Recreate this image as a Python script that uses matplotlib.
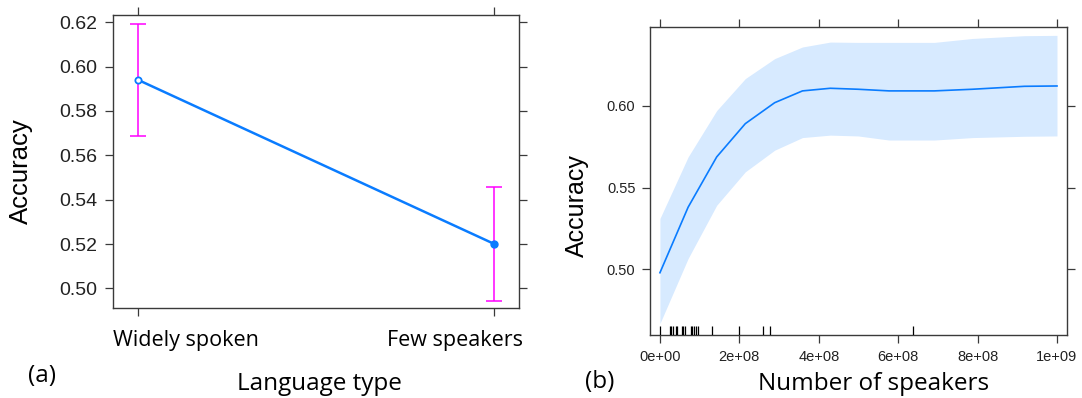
import matplotlib
matplotlib.use("Agg")
import matplotlib.pyplot as plt
from matplotlib.transforms import blended_transform_factory

# (a) language type effect
lang_types = ["Widely spoken", "Few speakers"]
acc_a = [0.594, 0.520]
lo_a = [0.5685, 0.4942]
hi_a = [0.6192, 0.5458]
yticks_a = [0.50, 0.52, 0.54, 0.56, 0.58, 0.60, 0.62]

# (b) number of speakers effect
speakers = [0, 0.71e8, 1.43e8, 2.15e8, 2.89e8, 3.59e8, 4.29e8, 4.99e8, 5.77e8, 6.91e8, 7.87e8, 9.18e8, 1.0e9]
fit_b = [0.498, 0.538, 0.5687, 0.589, 0.6018, 0.609, 0.6106, 0.610, 0.609, 0.609, 0.610, 0.6118, 0.612]
hi_b = [0.5311, 0.5687, 0.597, 0.6165, 0.6287, 0.6358, 0.6388, 0.6386, 0.6386, 0.6386, 0.641, 0.6427, 0.6429]
lo_b = [0.467, 0.5067, 0.5392, 0.5596, 0.5728, 0.5805, 0.582, 0.5815, 0.579, 0.579, 0.5805, 0.5813, 0.5815]
rug_b = [0, 0.025e9, 0.029e9, 0.034e9, 0.040e9, 0.044e9, 0.055e9, 0.059e9, 0.063e9,
         0.079e9, 0.082e9, 0.087e9, 0.092e9, 0.097e9, 0.130e9, 0.200e9, 0.259e9, 0.277e9, 0.638e9]
xticks_b = [0, 2e8, 4e8, 6e8, 8e8, 1e9]
xticklabels_b = ["0e+00", "2e+08", "4e+08", "6e+08", "8e+08", "1e+09"]
yticks_b = [0.50, 0.55, 0.60]

blue = "#0a7cff"
magenta = "#ff00ff"
band = "#d7eaff"
frame = "#3a3a3a"
arial = "Liberation Sans"
label_font = "Open Sans"

W, H = 1082, 398
fig = plt.figure(figsize=(W / 100, H / 100), dpi=100)


def px(x, y):
    # pixel position -> figure fraction
    return x / W, 1 - y / H


def lattice_axes(ax):
    for s in ax.spines.values():
        s.set_color(frame)
        s.set_linewidth(1.0)
    ax.tick_params(direction="out", length=5.5, width=0.9, color=frame,
                   top=True, right=True, labeltop=False, labelright=False,
                   labelcolor="#222222")


# ---- panel (a)
ax1 = fig.add_axes([113.3 / W, 1 - 308.3 / H, 406 / W, 293.3 / H])
lattice_axes(ax1)
xpos = [1, 2]
ax1.plot(xpos, acc_a, color=blue, lw=1.8, zorder=3)
ax1.errorbar(xpos, acc_a, yerr=[[a - l for a, l in zip(acc_a, lo_a)],
                                 [h - a for a, h in zip(acc_a, hi_a)]],
             fmt="none", ecolor=magenta, elinewidth=1.1, capsize=6, capthick=1.1, zorder=2)
ax1.plot(xpos[0], acc_a[0], "o", mfc="white", mec=blue, mew=1.3, ms=4.5, zorder=4)
ax1.plot(xpos[1], acc_a[1], "o", color=blue, ms=5, zorder=4)
ax1.set_xlim(0.93, 2.07)
ax1.set_ylim(0.491, 0.6233)
ax1.set_yticks(yticks_a)
ax1.set_yticklabels([f"{v:.2f}" for v in yticks_a], fontsize=14, family=arial)
ax1.set_xticks(xpos)
ax1.set_xticklabels([])
ax1.tick_params(axis="y", pad=6)

fig.text(*px(113, 346), lang_types[0], ha="left", va="baseline", fontsize=15.5, family=label_font)
fig.text(*px(523, 346), lang_types[1], ha="right", va="baseline", fontsize=15.5, family=label_font)
fig.text(*px(42, 382), "(a)", ha="center", va="baseline", fontsize=17.5, family=label_font)
fig.text(*px(319, 390), "Language type", ha="center", va="baseline", fontsize=17.5, family=label_font)
fig.text(*px(21, 171), "Accuracy", ha="center", va="center", rotation=90, fontsize=18.5, family=arial)

# ---- panel (b)
ax2 = fig.add_axes([650 / W, 1 - 335 / H, 417 / W, 308 / H])
lattice_axes(ax2)
ax2.fill_between(speakers, lo_b, hi_b, color=band, lw=0, zorder=1)
ax2.plot(speakers, fit_b, color=blue, lw=1.2, zorder=3)
rug_tr = blended_transform_factory(ax2.transData, ax2.transAxes)
ax2.vlines(rug_b, 0, 0.03, transform=rug_tr, color="black", lw=0.9, zorder=4)
ax2.set_xlim(-0.025e9, 1.0252e9)
ax2.set_ylim(0.460, 0.648)
ax2.set_xticks(xticks_b)
ax2.set_xticklabels(xticklabels_b, fontsize=10.5, family=arial)
ax2.set_yticks(yticks_b)
ax2.set_yticklabels([f"{v:.2f}" for v in yticks_b], fontsize=10.5, family=arial)
ax2.tick_params(axis="both", pad=5)

fig.text(*px(600, 388), "(b)", ha="center", va="baseline", fontsize=17.5, family=label_font)
fig.text(*px(874, 390), "Number of speakers", ha="center", va="baseline", fontsize=17.5, family=label_font)
fig.text(*px(577, 206), "Accuracy", ha="center", va="center", rotation=90, fontsize=18, family=arial)

fig.savefig("out.png", dpi=100)
